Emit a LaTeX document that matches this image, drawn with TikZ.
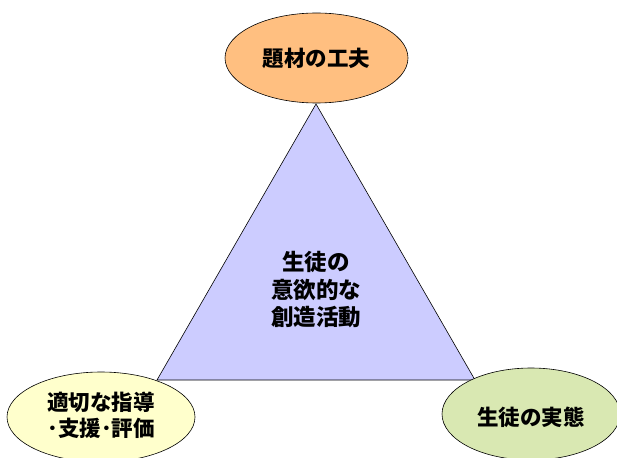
\documentclass[tikz,border=0pt]{standalone}
\usepackage{fontspec}
\setmainfont{Noto Sans CJK JP}
\usetikzlibrary{shapes.geometric}
\definecolor{topc}{HTML}{FFBF80}
\definecolor{leftc}{HTML}{FFFFCC}
\definecolor{rightc}{HTML}{D9E8B2}
\definecolor{tric}{HTML}{CCCCFF}
\tikzset{
  oval/.style={ellipse, draw=black, line width=0.6pt, inner sep=0pt},
  lbl/.style={font=\fontsize{21.5}{26}\selectfont\bfseries, align=center, text=black},
}
\begin{document}
\begin{tikzpicture}[x=1pt,y=-1pt]
\useasboundingbox (0,0) rectangle (617,457);
% triangle
\coordinate (A) at (316,104);
\coordinate (B) at (157,380);
\coordinate (C) at (475,380);
\draw[fill=tric, line width=0.6pt] (A) -- (B) -- (C) -- cycle;
\node[lbl, font=\fontsize{22.5}{27.5}\selectfont\bfseries] (center) at (316,290) {生徒の\\意欲的な\\創造活動};
% ellipses
\node[oval, fill=topc, minimum width=183pt, minimum height=90pt] (top) at (316.5,58) {};
\node[lbl] at (top) {題材の工夫};
\node[oval, fill=leftc, minimum width=188pt, minimum height=90pt] (left) at (101,417) {};
\node[lbl] at (101,415) {適切な指導\\･支援･評価};
\node[oval, fill=rightc, minimum width=178pt, minimum height=92pt] (right) at (531,414) {};
\node[lbl] at (531,417) {生徒の実態};
\end{tikzpicture}
\end{document}
